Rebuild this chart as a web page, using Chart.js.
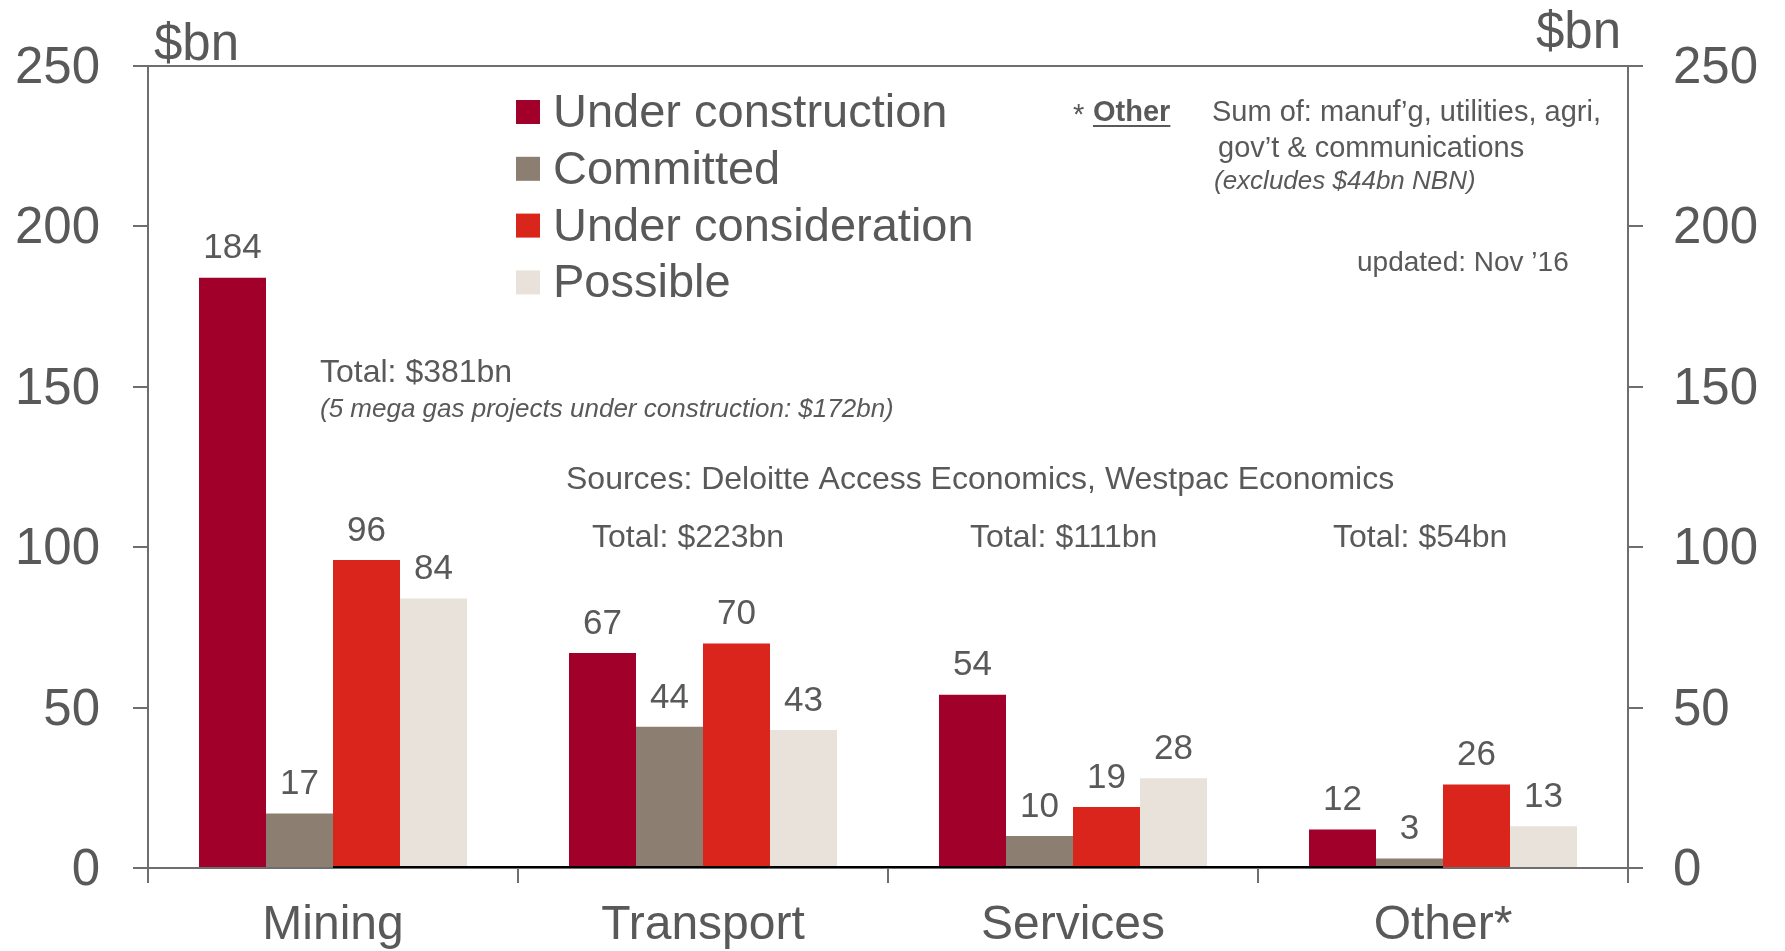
<!DOCTYPE html>
<html>
<head>
<meta charset="utf-8">
<title>Investment pipeline by sector</title>
<script src="https://cdn.jsdelivr.net/npm/chart.js@4/dist/chart.umd.min.js"></script>
<style>
  body { margin: 0; background: #fff; }
  #wrap { width: 1785px; height: 951px; }
</style>
</head>
<body>
<div id="wrap"><canvas id="pipelineChart" width="1785" height="951"></canvas></div>
<script>
// Project pipeline, $bn
const sectors = ['Mining', 'Transport', 'Services', 'Other*'];
const stages = ['Under construction', 'Committed', 'Under consideration', 'Possible'];
const underConstruction = [184, 67, 54, 12];
const committed = [17, 44, 10, 3];
const underConsideration = [96, 70, 19, 26];
const possible = [84, 43, 28, 13];
const sectorTotals = [381, 223, 111, 54];

const stageColours = ['#a0002a', '#8c7e70', '#da251d', '#e8e2db'];
const FONT = '"Liberation Sans", Arial, sans-serif';
const TEXT = '#595959';
const AXIS = '#6e6e6e';

function font(size, style) {
    return (style ? style + ' ' : '') + size + 'px ' + FONT;
}

// value labels above each bar
const valueLabels = {
    id: 'valueLabels',
    afterDatasetsDraw(chart) {
        const ctx = chart.ctx;
        ctx.save();
        ctx.font = font(35);
        ctx.fillStyle = TEXT;
        ctx.textAlign = 'center';
        ctx.textBaseline = 'middle';
        chart.data.datasets.forEach((ds, i) => {
            chart.getDatasetMeta(i).data.forEach((bar, j) => {
                ctx.fillText(ds.data[j], bar.x, bar.y - 29);
            });
        });
        ctx.restore();
    }
};

// legend block inside the plot
const stageLegend = {
    id: 'stageLegend',
    afterDraw(chart) {
        const ctx = chart.ctx;
        ctx.save();
        ctx.font = font(47);
        ctx.textBaseline = 'middle';
        chart.data.datasets.forEach((ds, i) => {
            const y = 112 + i * 56.8;
            ctx.fillStyle = ds.backgroundColor;
            ctx.fillRect(516, y - 12, 24, 24);
            ctx.fillStyle = TEXT;
            ctx.fillText(ds.label, 553, y + 2);
        });
        ctx.restore();
    }
};

// units, totals, sources and footnotes
const notes = {
    id: 'notes',
    afterDraw(chart) {
        const ctx = chart.ctx;
        ctx.save();
        ctx.fillStyle = TEXT;
        ctx.textBaseline = 'middle';

        ctx.font = font(51);
        ctx.textAlign = 'left';
        ctx.fillText('$bn', 154, 46);
        ctx.textAlign = 'right';
        ctx.fillText('$bn', 1621, 34);
        ctx.textAlign = 'left';

        ctx.font = font(32);
        ctx.fillText('Total: $' + sectorTotals[0] + 'bn', 320, 373);
        ctx.fillText('Total: $' + sectorTotals[1] + 'bn', 592, 538);
        ctx.fillText('Total: $' + sectorTotals[2] + 'bn', 970, 538);
        ctx.fillText('Total: $' + sectorTotals[3] + 'bn', 1333, 538);
        ctx.fillText('Sources: Deloitte Access Economics, Westpac Economics', 566, 480);

        ctx.font = font(26, 'italic');
        ctx.fillText('(5 mega gas projects under construction: $172bn)', 320, 410);

        ctx.font = font(29);
        ctx.fillText('*', 1073, 116);
        ctx.fillText('Sum of: manuf\u2019g, utilities, agri,', 1212, 113);
        ctx.fillText('gov\u2019t & communications', 1218, 149);
        ctx.font = font(28);
        ctx.fillText('updated: Nov \u201916', 1357, 263);
        ctx.font = font(29, 'bold');
        ctx.fillText('Other', 1093, 113);
        ctx.fillRect(1093, 125, ctx.measureText('Other').width, 2);

        ctx.font = font(26, 'italic');
        ctx.fillText('(excludes $44bn NBN)', 1214, 182);
        ctx.restore();
    }
};

// dark rule along the zero line under the middle groups
const zeroRule = {
    id: 'zeroRule',
    afterDraw(chart) {
        const bars = chart.getDatasetMeta(1).data;
        const first = bars[0], last = bars[bars.length - 1];
        const y = chart.scales.y.getPixelForValue(0);
        const ctx = chart.ctx;
        ctx.save();
        ctx.strokeStyle = '#000';
        ctx.lineWidth = 2;
        ctx.beginPath();
        ctx.moveTo(first.x + first.width / 2, y - 1);
        ctx.lineTo(last.x + last.width / 2, y - 1);
        ctx.stroke();
        ctx.restore();
    }
};

const series = [underConstruction, committed, underConsideration, possible];

const yAxis = (position, width, padding) => ({
    type: 'linear',
    position: position,
    min: 0,
    max: 250,
    ticks: { stepSize: 50, color: TEXT, font: { family: FONT, size: 51 }, padding: padding, labelOffset: 3 },
    grid: { drawOnChartArea: false, tickLength: 15, color: AXIS, lineWidth: 2 },
    border: { color: AXIS, width: 2 },
    afterFit(scale) { scale.width = width; }
});

new Chart(document.getElementById('pipelineChart'), {
    type: 'bar',
    data: {
        labels: sectors,
        datasets: stages.map((stage, i) => ({
            label: stage,
            data: series[i],
            backgroundColor: stageColours[i],
            xAxisID: 'x',
            yAxisID: 'y',
            barPercentage: 1,
            categoryPercentage: 0.7243
        }))
    },
    options: {
        responsive: false,
        animation: false,
        layout: { padding: 0 },
        plugins: {
            legend: { display: false },
            tooltip: { enabled: false }
        },
        scales: {
            x: {
                type: 'category',
                position: 'bottom',
                offset: true,
                ticks: { color: TEXT, font: { family: FONT, size: 48 }, padding: 14 },
                grid: { offset: true, drawOnChartArea: false, tickLength: 15, color: AXIS, lineWidth: 2 },
                border: { color: AXIS, width: 2 },
                afterFit(scale) { scale.height = 83; }
            },
            xTop: {
                type: 'category',
                position: 'top',
                offset: true,
                ticks: { display: false },
                grid: { display: false },
                border: { display: true, color: AXIS, width: 2 },
                afterFit(scale) { scale.height = 66; }
            },
            y: yAxis('left', 148, 33),
            y2: yAxis('right', 157, 30)
        }
    },
    plugins: [valueLabels, stageLegend, notes, zeroRule]
});
</script>
</body>
</html>
